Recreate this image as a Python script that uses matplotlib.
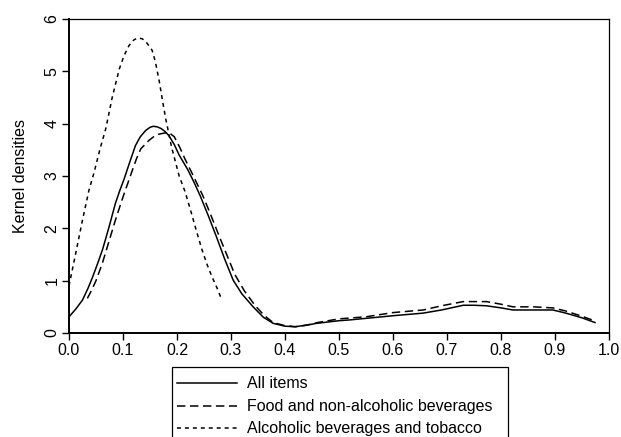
import numpy as np
import matplotlib
matplotlib.use("Agg")
from matplotlib import pyplot as plt
from matplotlib.patches import Rectangle
from matplotlib.lines import Line2D

# values
all_x = [0.0, 0.012, 0.025, 0.035, 0.043, 0.052, 0.062, 0.074, 0.086, 0.094, 0.102,
         0.112, 0.123, 0.132, 0.142, 0.15, 0.156, 0.163, 0.17, 0.178, 0.185,
         0.195, 0.204, 0.22, 0.232, 0.243, 0.258, 0.273, 0.288, 0.304, 0.32,
         0.341, 0.36, 0.378, 0.40, 0.419, 0.44, 0.459, 0.50, 0.52, 0.55, 0.60,
         0.656, 0.69, 0.73, 0.75, 0.773, 0.80, 0.822, 0.86, 0.896, 0.92, 0.95, 0.974]
all_y = [0.31, 0.45, 0.63, 0.85, 1.05, 1.30, 1.59, 2.02, 2.48, 2.72, 2.94,
         3.25, 3.58, 3.75, 3.87, 3.93, 3.95, 3.94, 3.91, 3.85, 3.77,
         3.60, 3.40, 3.12, 2.87, 2.62, 2.24, 1.84, 1.42, 1.01, 0.75,
         0.50, 0.30, 0.185, 0.13, 0.12, 0.15, 0.185, 0.235, 0.25, 0.28, 0.33,
         0.38, 0.44, 0.53, 0.53, 0.52, 0.48, 0.44, 0.44, 0.44, 0.38, 0.29, 0.20]

food_x = [0.034, 0.042, 0.05, 0.062, 0.074, 0.086, 0.10, 0.117, 0.125, 0.133,
          0.148, 0.158, 0.167, 0.176, 0.185, 0.195, 0.205, 0.215, 0.228, 0.248,
          0.262, 0.277, 0.292, 0.307, 0.325, 0.345, 0.362, 0.378, 0.40, 0.419,
          0.44, 0.46, 0.50, 0.55, 0.60, 0.656, 0.69, 0.73, 0.773, 0.80, 0.822,
          0.86, 0.896, 0.92, 0.95, 0.974]
food_y = [0.66, 0.82, 1.0, 1.34, 1.75, 2.16, 2.60, 3.10, 3.33, 3.52,
          3.68, 3.76, 3.80, 3.82, 3.83, 3.75, 3.55, 3.32, 3.05, 2.62,
          2.27, 1.88, 1.50, 1.12, 0.80, 0.52, 0.33, 0.20, 0.14, 0.12,
          0.15, 0.20, 0.27, 0.31, 0.39, 0.44, 0.52, 0.60, 0.60, 0.55, 0.50,
          0.50, 0.48, 0.42, 0.32, 0.23]

alc_x = [0.0, 0.012, 0.025, 0.037, 0.046, 0.057, 0.068, 0.08, 0.093, 0.102,
         0.111, 0.12, 0.128, 0.136, 0.142, 0.148, 0.154, 0.16, 0.167, 0.173,
         0.179, 0.19, 0.204, 0.215, 0.225, 0.236, 0.246, 0.256, 0.265, 0.275, 0.283]
alc_y = [0.9, 1.5, 2.16, 2.73, 3.05, 3.5, 3.9, 4.5, 5.04, 5.3,
         5.49, 5.60, 5.64, 5.62, 5.57, 5.49, 5.40, 5.18, 4.82, 4.45,
         4.10, 3.55, 3.0, 2.7, 2.35, 1.95, 1.6, 1.3, 1.07, 0.84, 0.63]

labels = ["All items", "Food and non-alcoholic beverages", "Alcoholic beverages and tobacco"]
xticks = [0.0, 0.1, 0.2, 0.3, 0.4, 0.5, 0.6, 0.7, 0.8, 0.9, 1.0]
yticks = [0, 1, 2, 3, 4, 5, 6]

plt.rcParams["font.family"] = ["Liberation Sans", "DejaVu Sans"]
fs = 11.5

fig = plt.figure(figsize=(6.21, 4.37), dpi=100)
W, H = 621, 437
ax = fig.add_axes([69/W, 1-333/H, (609-69)/W, (333-19)/H])

styles = [dict(ls="-"),
          dict(ls=(0, (5.5, 3.0))),
          dict(ls=(0, (2.6, 2.6)))]
series = [(all_x, all_y), (food_x, food_y), (alc_x, alc_y)]
for (xs, ys), st in zip(series, styles):
    ax.plot(xs, ys, color="black", lw=1.1, solid_joinstyle="round", **st)

ax.set_xlim(0, 1)
ax.set_ylim(0, 6)
ax.set_xticks(xticks)
ax.set_xticklabels(["%.1f" % t for t in xticks], fontsize=fs)
ax.set_yticks(yticks)
ax.set_yticklabels([str(t) for t in yticks], fontsize=fs, rotation=90, va="center")
ax.tick_params(direction="out", length=5, width=1, color="black", pad=2)
ax.set_ylabel("Kernel densities", fontsize=fs, labelpad=12)
for s in ["left", "bottom"]:
    ax.spines[s].set_linewidth(1.4)
for s in ["top", "right"]:
    ax.spines[s].set_linewidth(0.9)

# legend box drawn by hand, runs off the bottom like the original
fig.add_artist(Rectangle((172/W, 1-447/H), (508-172)/W, (447-367)/H,
                         transform=fig.transFigure, fill=False, ec="black", lw=0.9))
rows = [383, 406, 428]
for lab, st, r in zip(labels, styles, rows):
    fig.add_artist(Line2D([177/W, 237/W], [1-r/H, 1-r/H], transform=fig.transFigure,
                          color="black", lw=1.1, **st))
    fig.text(247/W, 1-r/H, lab, fontsize=fs, va="center", ha="left")

fig.savefig("out.png", dpi=100)
